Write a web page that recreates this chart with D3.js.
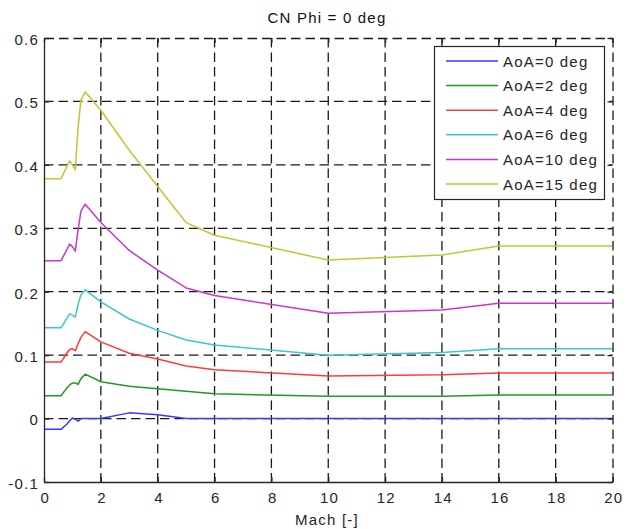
<!DOCTYPE html>
<html>
<head>
<meta charset="utf-8">
<script src="https://cdn.jsdelivr.net/npm/d3@7"></script>
<style>
  html, body { margin: 0; padding: 0; background: #fff; }
  svg { display: block; font-family: "Liberation Sans", Arial, Helvetica, sans-serif; }
  text { letter-spacing: 1.2px; }
</style>
</head>
<body>
<svg id="chart" width="628" height="529"></svg>
<script>
// Mach numbers at which CN was evaluated
const mach = [0, 0.6, 0.8, 0.9, 1.0, 1.1, 1.2, 1.3, 1.45, 2, 3, 4, 5, 6, 10, 14, 16, 20];

// Normal-force coefficient per angle of attack
const cnAoA0  = [-0.017, -0.017, -0.009, -0.004, 0.001, -0.001, -0.004, 0.000, 0.000, 0.000, 0.009, 0.006, 0.000, 0.000, 0.000, 0.000, 0.000, 0.000];
const cnAoA2  = [0.036, 0.036, 0.048, 0.053, 0.056, 0.056, 0.054, 0.063, 0.070, 0.058, 0.051, 0.047, 0.043, 0.039, 0.035, 0.035, 0.037, 0.037];
const cnAoA4  = [0.089, 0.089, 0.103, 0.109, 0.110, 0.107, 0.118, 0.128, 0.137, 0.121, 0.103, 0.094, 0.083, 0.077, 0.067, 0.069, 0.072, 0.072];
const cnAoA6  = [0.143, 0.143, 0.158, 0.165, 0.163, 0.160, 0.180, 0.195, 0.203, 0.184, 0.157, 0.139, 0.124, 0.116, 0.100, 0.104, 0.110, 0.110];
const cnAoA10 = [0.249, 0.249, 0.266, 0.275, 0.271, 0.264, 0.298, 0.327, 0.338, 0.309, 0.265, 0.234, 0.206, 0.194, 0.166, 0.171, 0.182, 0.182];
const cnAoA15 = [0.378, 0.378, 0.397, 0.406, 0.400, 0.392, 0.460, 0.502, 0.515, 0.486, 0.423, 0.366, 0.309, 0.289, 0.250, 0.258, 0.272, 0.272];

const seriesNames  = ["AoA=0 deg", "AoA=2 deg", "AoA=4 deg", "AoA=6 deg", "AoA=10 deg", "AoA=15 deg"];
const seriesValues = [cnAoA0, cnAoA2, cnAoA4, cnAoA6, cnAoA10, cnAoA15];
const seriesColors = ["#3a3aff", "#229a22", "#ff3a3a", "#3cc8c8", "#cc35cc", "#c4c436"];

const xTicks = [0, 2, 4, 6, 8, 10, 12, 14, 16, 18, 20];
const yTicks = [-0.1, 0, 0.1, 0.2, 0.3, 0.4, 0.5, 0.6];

const titleText = "CN Phi = 0 deg";
const xLabelText = "Mach [-]";

const svg = d3.select("#chart");
const plotL = 44, plotR = 612.5, plotT = 38, plotB = 482;
const axisColor = "#262626";
const gridDash = "9.5,5";

const x = d3.scaleLinear().domain([0, 20]).range([plotL, plotR]);
const y = d3.scaleLinear().domain([-0.1, 0.6]).range([plotB, plotT]);

// dashed grid
const grid = svg.append("g").attr("stroke", "#1a1a1a").attr("stroke-width", 1.3)
  .attr("stroke-dasharray", gridDash);
grid.selectAll("line.v").data(xTicks.slice(1, -1)).join("line").attr("class", "v")
  .attr("x1", d => x(d)).attr("x2", d => x(d))
  .attr("y1", plotT).attr("y2", plotB);
grid.selectAll("line.h").data(yTicks.slice(1, -1)).join("line").attr("class", "h")
  .attr("y1", d => y(d)).attr("y2", d => y(d))
  .attr("x1", plotL).attr("x2", plotR);

// curves
const line = d3.line().x((d, i) => x(mach[i])).y(d => y(d));
svg.append("g").selectAll("path").data(seriesValues).join("path")
  .attr("d", d => line(d))
  .attr("fill", "none")
  .attr("stroke", (d, i) => seriesColors[i])
  .attr("stroke-width", 1.5)
  .attr("stroke-linejoin", "round");

// axes (ticks pointing inward on all four sides)
const tickLen = 5;
const bottomAxis = svg.append("g").attr("transform", `translate(0,${plotB})`)
  .call(d3.axisBottom(x).tickValues(xTicks).tickSizeInner(-tickLen).tickSizeOuter(0).tickPadding(10));
const leftAxis = svg.append("g").attr("transform", `translate(${plotL},0)`)
  .call(d3.axisLeft(y).tickValues(yTicks).tickSizeInner(-tickLen).tickSizeOuter(0).tickPadding(6)
    .tickFormat(d => String(+d.toFixed(1))));
const topAxis = svg.append("g").attr("transform", `translate(0,${plotT})`)
  .call(d3.axisTop(x).tickValues(xTicks).tickSizeInner(-tickLen).tickSizeOuter(0).tickFormat(""));
const rightAxis = svg.append("g").attr("transform", `translate(${plotR},0)`)
  .call(d3.axisRight(y).tickValues(yTicks).tickSizeInner(-tickLen).tickSizeOuter(0).tickFormat(""));

[bottomAxis, leftAxis, topAxis, rightAxis].forEach(g => {
  g.select(".domain").attr("stroke", axisColor).attr("stroke-width", 1.3);
  g.selectAll(".tick line").attr("stroke", axisColor).attr("stroke-width", 1.3);
  g.selectAll(".tick text").attr("fill", axisColor).attr("font-size", 15)
    .attr("font-family", "Liberation Sans, Arial, sans-serif");
});
topAxis.select(".domain").attr("stroke-dasharray", gridDash).attr("stroke", "#1a1a1a");
rightAxis.select(".domain").attr("stroke-dasharray", gridDash).attr("stroke", "#1a1a1a");
leftAxis.selectAll(".tick text").attr("dy", "0.42em").attr("x", -5);
bottomAxis.selectAll(".tick text").attr("dy", "0.75em").attr("dx", "0.05em");

// title and axis label
svg.append("text").attr("x", 327).attr("y", 23).attr("text-anchor", "middle")
  .attr("font-size", 15).attr("fill", "#111").text(titleText);
svg.append("text").attr("x", 327).attr("y", 525).attr("text-anchor", "middle")
  .attr("font-size", 15).attr("fill", axisColor).text(xLabelText);

// legend
const legend = svg.append("g");
legend.append("rect").attr("x", 434.5).attr("y", 46.5).attr("width", 170).attr("height", 153)
  .attr("fill", "#fff").attr("stroke", axisColor).attr("stroke-width", 1.2);
const rowY = d3.scalePoint().domain(seriesNames).range([61, 184]);
const rows = legend.selectAll("g.row").data(seriesNames).join("g").attr("class", "row")
  .attr("transform", d => `translate(0,${rowY(d)})`);
rows.append("line").attr("x1", 446).attr("x2", 498).attr("y1", 0).attr("y2", 0)
  .attr("stroke", (d, i) => seriesColors[i]).attr("stroke-width", 1.5);
rows.append("text").attr("x", 503).attr("y", 5.5).attr("font-size", 15)
  .attr("fill", axisColor).text(d => d);
</script>
</body>
</html>
